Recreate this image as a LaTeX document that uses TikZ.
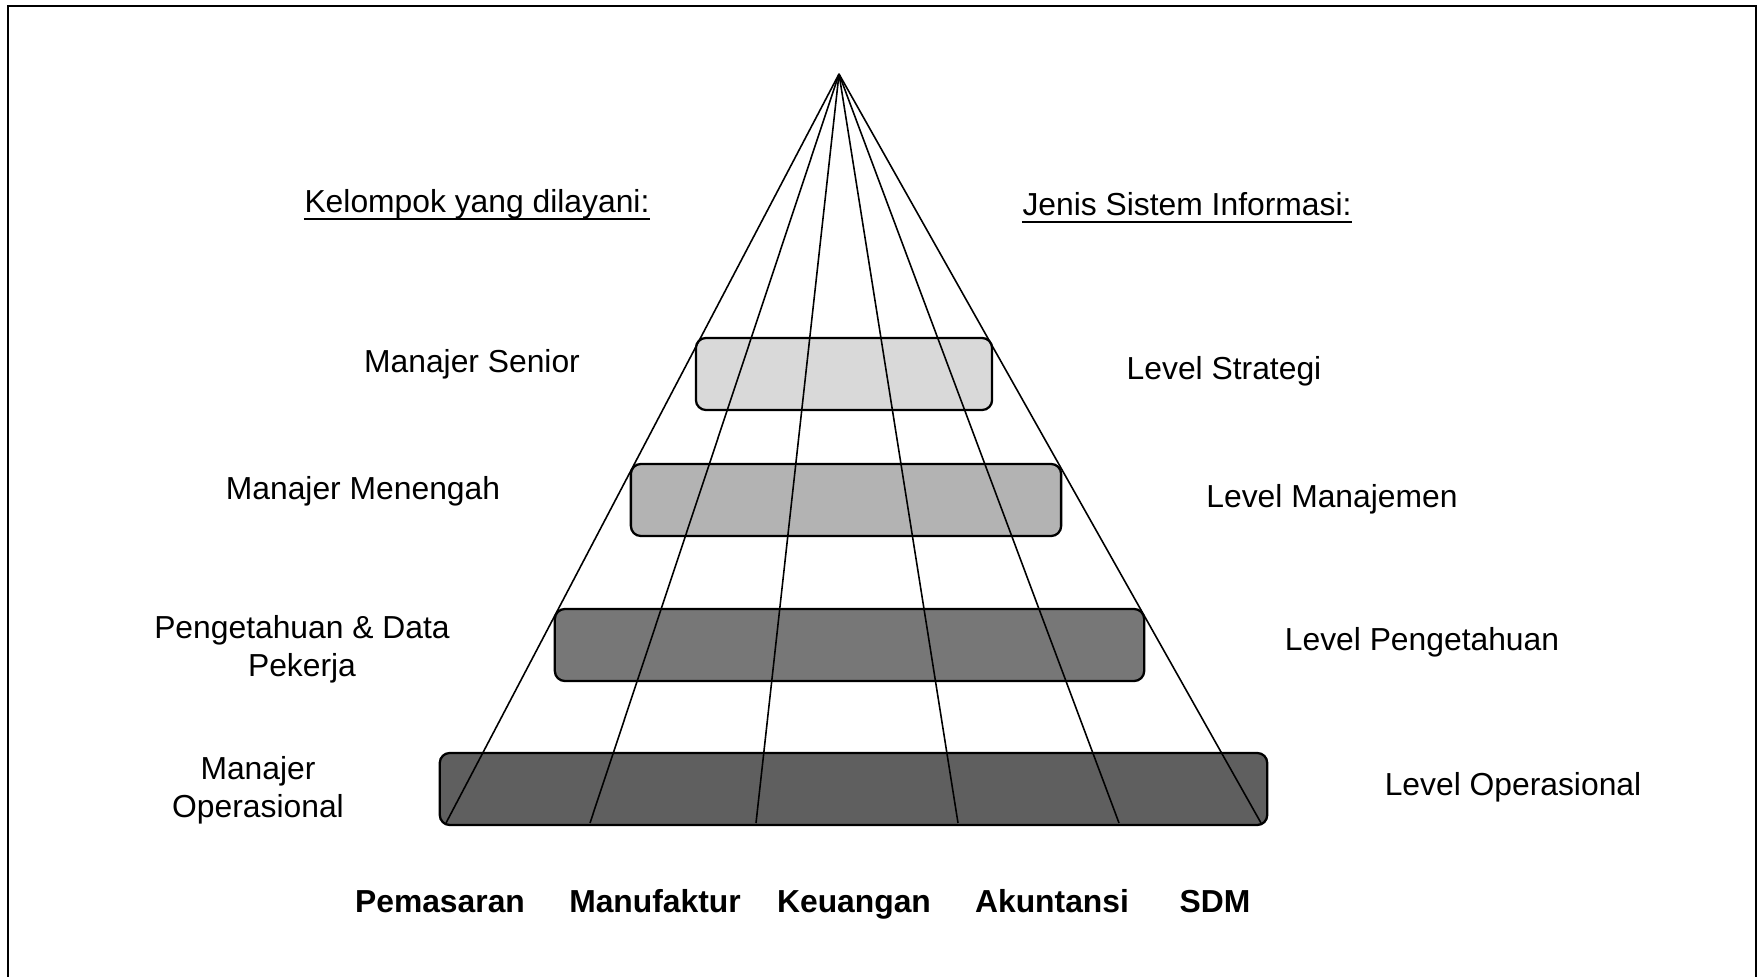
\documentclass[tikz,border=0pt]{standalone}
\usepackage{fontspec}
\setmainfont{Liberation Sans}
\usepackage{tikz}
\usetikzlibrary{calc}
\usetikzlibrary{positioning}
\definecolor{lvlA}{HTML}{D9D9D9}
\definecolor{lvlB}{HTML}{B3B3B3}
\definecolor{lvlC}{HTML}{777777}
\definecolor{lvlD}{HTML}{5F5F5F}
\tikzset{
  lvlbox/.style={draw=black, line width=0.65pt, rounded corners=0.1cm, inner sep=0pt},
  lbl/.style={inner sep=0pt, anchor=base, font=\fontsize{9.05}{10.8}\selectfont},
  lbltwo/.style={inner sep=0pt, align=center, font=\fontsize{9.05}{10.8}\selectfont},
  dept/.style={inner sep=0pt, anchor=base, font=\fontsize{9.05}{10.8}\selectfont\bfseries},
  ray/.style={line width=0.45pt}
}
\newcommand{\levelbox}[6]{\node[lvlbox, fill=#6, minimum width=#3 cm, minimum height=#4 cm] (#5) at (#1,#2) {};}
\newcommand{\underl}[1]{\draw[line width=0.55pt] ($(#1.base west)+(0,6)$) -- ($(#1.base east)+(0,6)$);}

\begin{document}
\begin{tikzpicture}[x=0.01cm, y=-0.01cm]
        \useasboundingbox (0,0) rectangle (1761,977);
        \clip (0,0) rectangle (1761,977);
        \draw[line width=0.7pt] (8,1000) -- (8,6) -- (1756,6) -- (1756,1000);

        \levelbox{844}{374}{2.96}{0.72}{strategi}{lvlA}
        \levelbox{846}{500}{4.30}{0.72}{manajemen}{lvlB}
        \levelbox{849.5}{645}{5.89}{0.72}{pengetahuan}{lvlC}
        \levelbox{853.5}{789}{8.27}{0.72}{operasional}{lvlD}

        \coordinate (apex) at (839,74);
        \coordinate (b1) at (446,823);
        \coordinate (b2) at (590,823);
        \coordinate (b3) at (756,823);
        \coordinate (b4) at (958,823);
        \coordinate (b5) at (1119,823);
        \coordinate (b6) at (1261,823);
        \foreach \i in {1,...,6}
          \draw[ray] (apex) -- (b\i);

        \node[lbl] (kelompok) at (477,213) {Kelompok yang dilayani:};
        \node[lbl] (jenis) at (1187,216) {Jenis Sistem Informasi:};
        \underl{kelompok}
        \underl{jenis}

        \node[lbl] (senior) at (472,373) {Manajer Senior};
        \node[lbl] (menengah) at (363,500) {Manajer Menengah};
        \node[lbltwo] (pekerja) at (302,649) {Pengetahuan \& Data\\Pekerja};
        \node[lbltwo] (opmgr) at (258,790) {Manajer\\Operasional};

        \node[lbl] (lvstrat) at (1224,380) {Level Strategi};
        \node[lbl] (lvman) at (1332,508) {Level Manajemen};
        \node[lbl] (lvpeng) at (1422,651) {Level Pengetahuan};
        \node[lbl] (lvops) at (1513,796) {Level Operasional};

        \node[dept] (pemasaran) at (440,913) {Pemasaran};
        \node[dept] (manufaktur) at (655,913) {Manufaktur};
        \node[dept] (keuangan) at (854,913) {Keuangan};
        \node[dept] (akuntansi) at (1052,913) {Akuntansi};
        \node[dept] (sdm) at (1215,913) {SDM};
    \end{tikzpicture}
\end{document}
